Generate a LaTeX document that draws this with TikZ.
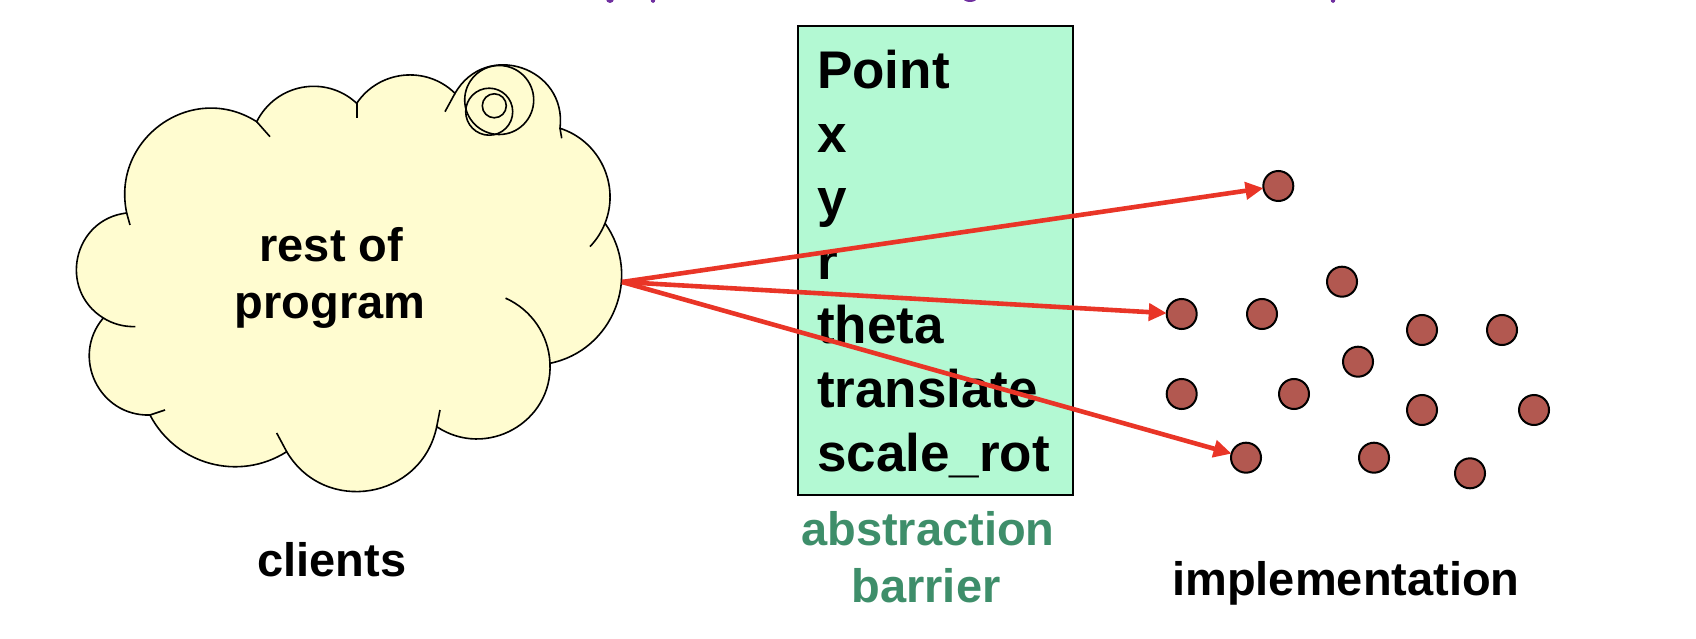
\documentclass[tikz,border=0pt]{standalone}
\usepackage{fontspec}
\setmainfont{Liberation Sans}
\usetikzlibrary{arrows.meta}
\definecolor{cloudfill}{HTML}{FFFCD0}
\definecolor{boxfill}{HTML}{B3F9D3}
\definecolor{dotfill}{HTML}{B25850}
\definecolor{arrowred}{HTML}{E93527}
\definecolor{barriergreen}{HTML}{3E8E6A}
\definecolor{titlepurple}{HTML}{7030A0}
\tikzset{
  cloudline/.style={draw=black, line width=1.6pt},
  barrierbox/.style={draw=black, line width=2pt, fill=boxfill, inner sep=0pt,
    minimum width=274.5pt, minimum height=468.5pt},
  boxtext/.style={anchor=base west, inner sep=0pt, font=\fontsize{53pt}{64pt}\selectfont\bfseries},
  labeltext/.style={anchor=base, inner sep=0pt, font=\fontsize{47pt}{56pt}\selectfont\bfseries},
  pointdot/.style={circle, draw=black, line width=2pt, fill=dotfill, minimum size=30pt,
    inner sep=0pt, outer sep=0pt},
  callarrow/.style={draw=arrowred, line width=4.6pt, -{Triangle[length=18pt,width=17pt]}},
}
\begin{document}
\begin{tikzpicture}[x=1pt,y=1pt]
\useasboundingbox (0,0) rectangle (1696,638);

% cut-off title descenders
\begin{scope}
\clip (0,0) rectangle (1696,638);
\fill[titlepurple] (610,639) ellipse [x radius=4, y radius=4];
\fill[titlepurple] (653,639) ellipse [x radius=2.5, y radius=4];
\fill[titlepurple] (970,640) ellipse [x radius=7, y radius=4];
\fill[titlepurple] (1333,639) ellipse [x radius=2.5, y radius=4];
\end{scope}

% cloud
\draw[cloudline, fill=cloudfill]
  (126.7,425) to[out=102,in=147.5,looseness=1.23] (256.7,516.3)
  to[out=63.4,in=137.1,looseness=1.07] (356.7,534.7)
  to[out=56,in=135.6,looseness=1.04] (455,544.7)
  to[out=60.1,in=83.1,looseness=1.42] (560,509.7)
  to[out=-17.7,in=68.3,looseness=1.01] (605,414.7)
  to[out=-54.4,in=11.5,looseness=1.10] (550,274.7)
  to[out=-87.4,in=-33.6,looseness=1.17] (436.7,211.3)
  to[out=-101.7,in=-59.4,looseness=1.25] (286.7,186.3)
  to[out=-147.5,in=-62.5,looseness=1.02] (150,223)
  to[out=-178.2,in=-130.3,looseness=1.21] (103.3,320)
  to[out=148,in=186.6,looseness=1.28] cycle;
% inner arc ends of the cloud
\draw[cloudline] (126.7,425) -- (130,413);
\draw[cloudline] (256.7,516.3) -- (270,501.3);
\draw[cloudline] (356.7,534.7) -- (356.7,519.7);
\draw[cloudline] (455,544.7) -- (445,526.3);
\draw[cloudline] (560,509.7) -- (561.7,499.7);
\draw[cloudline] (605,414.7) arc[start angle=-21.7, end angle=-44, radius=71.8];
\draw[cloudline] (550,274.7) arc[start angle=2.6, end angle=66, radius=75];
\draw[cloudline] (436.7,211.3) -- (440,228);
\draw[cloudline] (286.7,186.3) -- (276.7,205);
\draw[cloudline] (150,223) -- (165,228);
\draw[cloudline] (103.3,320) arc[start angle=238, end angle=272, radius=56.6];
% curls
\draw[cloudline] (499.2,538) circle [radius=34.5];
\draw[cloudline] (489.2,526.3) circle [radius=23.5];
\draw[cloudline] (494.3,532.2) circle [radius=12];

\node[labeltext] (rest) at (331.3,376.3) {rest of};
\node[labeltext] (prog) at (330,319.7) {program};
\coordinate (src) at (622,356);

% barrier box
\node[barrierbox] (box) at (935.25,377.75) {};
\node[boxtext] (t1) at (817,549.7) {Point};
\node[boxtext] (t2) at (817,485.8) {x};
\node[boxtext] (t3) at (817,421.9) {y};
\node[boxtext] (t4) at (817,358) {r};
\node[boxtext] (t5) at (817,294.1) {theta};
\node[boxtext] (t6) at (817,230.2) {translate};
\node[boxtext] (t7) at (817,166.3) {scale\_rot};

% implementation dots
\node[pointdot] (d1) at (1278.3,452) {};
\node[pointdot] (d2) at (1181.7,324) {};
\node[pointdot] (d3) at (1262,324) {};
\node[pointdot] (d4) at (1342,356.3) {};
\node[pointdot] (d5) at (1422,308) {};
\node[pointdot] (d6) at (1502,308) {};
\node[pointdot] (d7) at (1358,276.3) {};
\node[pointdot] (d8) at (1181.7,244) {};
\node[pointdot] (d9) at (1294,244) {};
\node[pointdot] (d10) at (1422,228) {};
\node[pointdot] (d11) at (1534,228) {};
\node[pointdot] (d12) at (1246,180.3) {};
\node[pointdot] (d13) at (1374,180.3) {};
\node[pointdot] (d14) at (1470,164.7) {};

% arrows
\draw[callarrow] (src) -- (d1);
\draw[callarrow] (src) -- (d2);
\draw[callarrow] (src) -- (d12);

% labels
\node[labeltext] (clients) at (332,62) {clients};
\node[labeltext, text=barriergreen] (abs1) at (928,93) {abstraction};
\node[labeltext, text=barriergreen] (abs2) at (926,36) {barrier};
\node[labeltext] (impl) at (1346,43) {implementation};
\end{tikzpicture}
\end{document}
